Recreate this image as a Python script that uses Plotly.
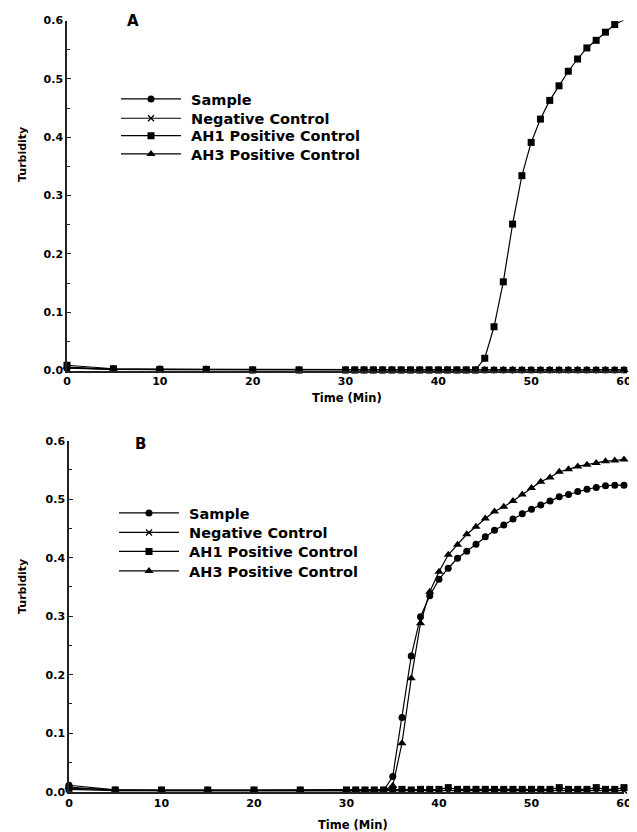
import plotly.graph_objects as go

# ---------------- data ----------------
time_min = [0, 5, 10, 15, 20, 25,
            30, 31, 32, 33, 34, 35, 36, 37, 38, 39,
            40, 41, 42, 43, 44, 45, 46, 47, 48, 49,
            50, 51, 52, 53, 54, 55, 56, 57, 58, 59, 60]

series_names = ["Sample", "Negative Control", "AH1 Positive Control", "AH3 Positive Control"]

# Panel A
a_sample = [0.004, 0.002, 0.002, 0.002, 0.001, 0.001,
            0.001, 0.001, 0.001, 0.001, 0.001, 0.001, 0.001, 0.001, 0.001, 0.001,
            0.001, 0.001, 0.001, 0.001, 0.001, 0.001, 0.001, 0.001, 0.001, 0.001,
            0.001, 0.001, 0.001, 0.001, 0.001, 0.001, 0.001, 0.001, 0.001, 0.001, 0.001]
a_negative = [0.005, 0.002, 0.001, 0.001, 0.001, 0.001,
              0.001, 0.001, 0.001, 0.001, 0.001, 0.001, 0.001, 0.001, 0.001, 0.001,
              0.001, 0.001, 0.001, 0.001, 0.001, 0.001, 0.001, 0.001, 0.001, 0.001,
              0.001, 0.001, 0.001, 0.001, 0.001, 0.001, 0.001, 0.001, 0.001, 0.001, 0.001]
a_ah1 = [0.009, 0.003, 0.002, 0.002, 0.001, 0.001,
         0.001, 0.001, 0.001, 0.001, 0.001, 0.001, 0.001, 0.001, 0.001, 0.001,
         0.001, 0.001, 0.001, 0.001, 0.001, 0.021, 0.075, 0.152, 0.251, 0.334,
         0.391, 0.431, 0.463, 0.488, 0.513, 0.534, 0.553, 0.566, 0.580, 0.593, 0.601]
a_ah3 = [0.006, 0.002, 0.002, 0.001, 0.001, 0.001,
         0.001, 0.001, 0.001, 0.001, 0.001, 0.001, 0.001, 0.001, 0.001, 0.001,
         0.001, 0.001, 0.001, 0.001, 0.001, 0.001, 0.001, 0.001, 0.001, 0.001,
         0.001, 0.001, 0.001, 0.001, 0.001, 0.001, 0.001, 0.001, 0.001, 0.001, 0.001]

# Panel B
b_sample = [0.011, 0.003, 0.002, 0.002, 0.002, 0.002,
            0.002, 0.002, 0.002, 0.002, 0.002, 0.026, 0.127, 0.232, 0.299, 0.335,
            0.363, 0.382, 0.399, 0.411, 0.423, 0.436, 0.447, 0.456, 0.466, 0.475,
            0.483, 0.490, 0.497, 0.504, 0.508, 0.513, 0.517, 0.520, 0.523, 0.524, 0.524]
b_negative = [0.004, 0.002, 0.002, 0.002, 0.002, 0.002,
              0.002, 0.002, 0.002, 0.002, 0.002, 0.002, 0.002, 0.002, 0.002, 0.002,
              0.002, 0.002, 0.002, 0.002, 0.002, 0.002, 0.002, 0.002, 0.002, 0.002,
              0.002, 0.002, 0.002, 0.002, 0.002, 0.002, 0.002, 0.002, 0.002, 0.002, 0.002]
b_ah1 = [0.006, 0.003, 0.003, 0.003, 0.003, 0.003,
         0.003, 0.003, 0.003, 0.003, 0.003, 0.004, 0.004, 0.003, 0.004, 0.004,
         0.004, 0.007, 0.004, 0.004, 0.004, 0.004, 0.004, 0.004, 0.004, 0.004,
         0.004, 0.004, 0.004, 0.007, 0.004, 0.004, 0.004, 0.007, 0.004, 0.004, 0.007]
b_ah3 = [0.008, 0.002, 0.002, 0.002, 0.002, 0.002,
         0.002, 0.002, 0.002, 0.002, 0.002, 0.010, 0.083, 0.194, 0.288, 0.342,
         0.376, 0.405, 0.422, 0.440, 0.453, 0.467, 0.479, 0.487, 0.497, 0.508,
         0.519, 0.530, 0.537, 0.547, 0.551, 0.556, 0.559, 0.562, 0.565, 0.566, 0.568]

y_tick_vals = [0.0, 0.1, 0.2, 0.3, 0.4, 0.5, 0.6]
y_tick_text = ["0.0", "0.1", "0.2", "0.3", "0.4", "0.5", "0.6"]
x_tick_vals = [0, 10, 20, 30, 40, 50, 60]
x_tick_text = ["0", "10", "20", "30", "40", "50", "60"]

# ---------------- styling ----------------
FONT = "DejaVu Sans, Verdana, sans-serif"
symbols = ["circle", "x-thin-open", "square", "triangle-up"]
sizes = [7, 6, 7, 8]
PAGE_OFF = 8            # default body margin of the html page
W, H = 637 - PAGE_OFF, 832 - PAGE_OFF
NBSP = "\u00a0"


def px_x(p):
    """page pixel (from left) -> paper fraction"""
    return (p - PAGE_OFF) / W


def px_y(p):
    """page pixel (from top) -> paper fraction"""
    return 1 - (p - PAGE_OFF) / H


# legend row centres (page pixels from top) for each panel
legend_rows = [[99, 118.3, 135.7, 154], [513, 532.5, 551.5, 571]]
legend_left = [116, 114]

fig = go.Figure()

panels = [
    ("x", "y", [a_sample, a_negative, a_ah1, a_ah3]),
    ("x2", "y2", [b_sample, b_negative, b_ah1, b_ah3]),
]

layout_legends = {}
k = 0
for p, (xa, ya, data) in enumerate(panels):
    for i, (name, vals, sym, sz) in enumerate(zip(series_names, data, symbols, sizes)):
        k += 1
        lg = "legend" if k == 1 else f"legend{k}"
        fig.add_trace(go.Scatter(
            x=time_min, y=vals, name=NBSP + name, mode="lines+markers",
            xaxis=xa, yaxis=ya, legend=lg, showlegend=True,
            line=dict(color="black", width=1.2),
            marker=dict(symbol=sym, size=sz, color="black",
                        line=dict(color="black", width=1.3 if sym.startswith("x") else 0)),
            cliponaxis=False,
        ))
        layout_legends[lg] = dict(
            font=dict(family=FONT, size=14.5, color="black", weight="bold"),
            bgcolor="rgba(0,0,0,0)", borderwidth=0, visible=True,
            xanchor="left", yanchor="middle", itemwidth=60,
            x=px_x(legend_left[p]), y=px_y(legend_rows[p][i]),
        )

axis_common = dict(
    showgrid=False, zeroline=False, showline=True, automargin=False,
    linecolor="#222222", linewidth=1.5,
    tickfont=dict(family=FONT, size=11, color="black", weight="bold"),
)

yaxis_common = dict(
    axis_common, range=[0, 0.6], tickmode="array",
    tickvals=y_tick_vals, ticktext=y_tick_text,
    ticks="inside", ticklen=4, tickwidth=1, tickcolor="#222222",
    minor=dict(dtick=0.05, ticks="inside", ticklen=3, tickwidth=1, tickcolor="#222222"),
)
xaxis_common = dict(
    axis_common, range=[0, 60], tickmode="array",
    tickvals=x_tick_vals, ticktext=x_tick_text, ticks="",
)

title_font = dict(family=FONT, size=11.5, color="black", weight="bold")
letter_font = dict(family=FONT, size=15, color="black", weight="bold")


def note(text, x, y, font, angle=0):
    return dict(text=text, x=px_x(x), y=px_y(y), xref="paper", yref="paper",
                xanchor="center", yanchor="middle", showarrow=False,
                textangle=angle, font=font)


fig.update_layout(
    width=W, height=H,
    showlegend=True,
    margin=dict(l=0, r=0, t=0, b=0),
    paper_bgcolor="white", plot_bgcolor="white",
    font=dict(family=FONT, color="black"),
    xaxis=dict(xaxis_common, domain=[px_x(67), px_x(624)], anchor="y"),
    yaxis=dict(yaxis_common, domain=[px_y(370.5), px_y(20.5)], anchor="x"),
    xaxis2=dict(xaxis_common, domain=[px_x(69), px_x(624)], anchor="y2"),
    yaxis2=dict(yaxis_common, domain=[px_y(791.7), px_y(440.7)], anchor="x2"),
    annotations=[
        note("A", 133, 21, letter_font),
        note("B", 140, 444, letter_font),
        note("Turbidity", 22.5, 154.5, dict(title_font, size=11), -90),
        note("Turbidity", 22.5, 586.5, dict(title_font, size=11), -90),
        note("Time (Min)", 347, 398, title_font),
        note("Time (Min)", 353, 824.5, title_font),
    ],
    **layout_legends,
)

fig.write_html("out.html")
